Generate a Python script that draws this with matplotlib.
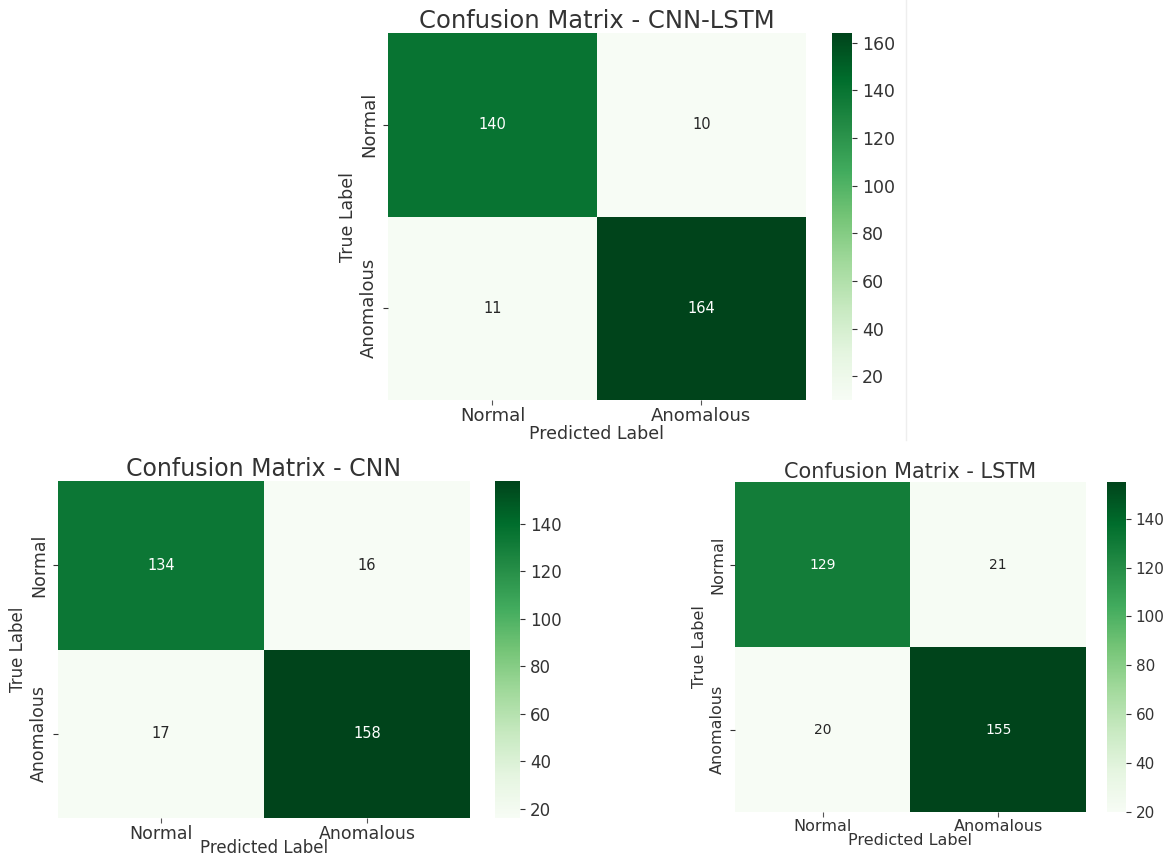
import matplotlib

matplotlib.use("Agg")
import matplotlib.pyplot as plt  # noqa: E402
import numpy as np  # noqa: E402
import seaborn as sns  # noqa: E402
from matplotlib.lines import Line2D  # noqa: E402

FG = "#333333"

CLASSES = ["Normal", "Anomalous"]
CM_CNN_LSTM = [[140, 10], [11, 164]]
CM_CNN = [[134, 16], [17, 158]]
CM_LSTM = [[129, 21], [20, 155]]

# (matrix, title, axes rect, cbar rect, title fs, tick fs, annot fs, label fs, xlabel pad)
PANELS = [
    (CM_CNN_LSTM, "Confusion Matrix - CNN-LSTM",
     [0.3333, 0.5338, 0.3591, 0.4277], [0.7148, 0.5338, 0.0172, 0.4277], 17.5, 13, 10.5, 12.5, 0),
    (CM_CNN, "Confusion Matrix - CNN",
     [0.0498, 0.0466, 0.3540, 0.3928], [0.4253, 0.0466, 0.0215, 0.3928], 17, 12.5, 10.5, 12, -3),
    (CM_LSTM, "Confusion Matrix - LSTM",
     [0.6314, 0.0536, 0.3015, 0.3846], [0.9510, 0.0536, 0.0163, 0.3846], 15, 11.5, 10, 11.5, -1),
]


def main():
    fig = plt.figure(figsize=(11.64, 8.58), dpi=100, facecolor="white")
    for cm, title, rect, crect, tfs, kfs, afs, lfs, xpad in PANELS:
        ax = fig.add_axes(rect)
        cax = fig.add_axes(crect)
        sns.heatmap(np.array(cm), annot=True, fmt="d", cmap="Greens",
                    xticklabels=CLASSES, yticklabels=CLASSES,
                    ax=ax, cbar_ax=cax, annot_kws={"fontsize": afs})
        ax.set_title(title, fontsize=tfs, color=FG, pad=3)
        ax.set_xlabel("Predicted Label", fontsize=lfs, color=FG, labelpad=xpad)
        ax.set_ylabel("True Label", fontsize=lfs, color=FG, labelpad=2)
        ax.tick_params(labelsize=kfs, colors=FG, labelcolor=FG)
        ax.tick_params(axis="x", color="#555555", pad=1.5)
        cax.tick_params(labelsize=kfs - 0.5, colors=FG)
    # faint frame edge left over from the top panel's source image
    fig.add_artist(Line2D([0.778, 0.778], [0.487, 1.0], color="#eeeeee", lw=1))
    fig.savefig("out.png", dpi=100, facecolor="white")
    plt.close(fig)


if __name__ == "__main__":
    main()
